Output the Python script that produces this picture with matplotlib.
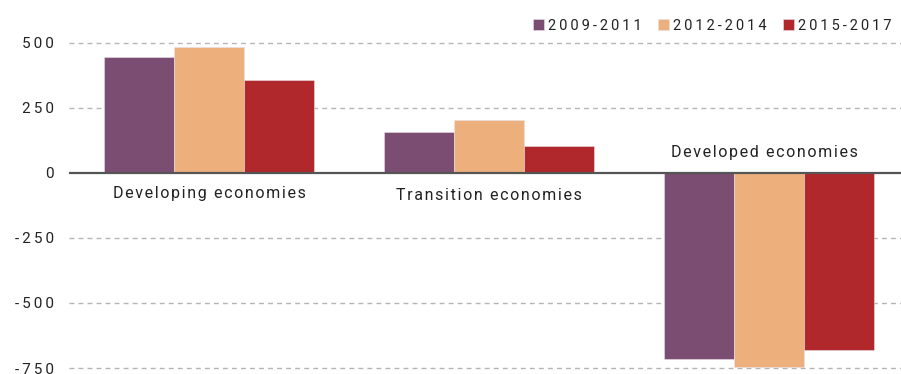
import matplotlib.pyplot as plt
import numpy as np

# data
groups = ["Developing economies", "Transition economies", "Developed economies"]
periods = ["2009-2011", "2012-2014", "2015-2017"]
v_2009_2011 = [444, 158, -715]
v_2012_2014 = [483, 204, -746]
v_2015_2017 = [356, 104, -681]
colors = ["#7B4D73", "#EDB07D", "#B0282C"]
yticks = [500, 250, 0, -250, -500, -750]

plt.rcParams['font.family'] = ['Roboto', 'DejaVu Sans']


def spaced(s, n=1):
    # fake letter tracking with hair spaces
    return ("\u200a" * n).join(s)


fig = plt.figure(figsize=(9.01, 3.74), dpi=100)
ax = fig.add_axes([69 / 901, 0, 1 - 69 / 901, 1])

x = np.arange(len(groups))
w = 0.25
series = [v_2009_2011, v_2012_2014, v_2015_2017]
for i, (vals, c, lab) in enumerate(zip(series, colors, periods)):
    ax.bar(x + (i - 1) * w, vals, w, color=c, label=spaced(lab, 2),
           edgecolor="#e8e0e6", linewidth=0.4, zorder=3)

ax.set_xlim(-0.5, 2.471)
ax.set_ylim(-773, 665)
ax.set_yticks(yticks)
ax.set_yticklabels([spaced(str(v), 2) for v in yticks])
ax.tick_params(axis="y", length=0, pad=11, labelsize=11, labelcolor="#222222")
ax.set_xticks([])
for s in ax.spines.values():
    s.set_visible(False)

for yv in yticks:
    if yv != 0:
        ax.axhline(yv, color="#b5b5b5", linestyle=(0, (3.5, 3)), linewidth=1, zorder=1)
ax.axhline(0, color="#555555", linewidth=1.6, zorder=4)

# category labels
label_dx = [0, 0, -0.018]
label_y = [-80, -88, 80]
for xi, dx, name, ly in zip(x, label_dx, groups, label_y):
    ax.text(xi + dx, ly, spaced(name), ha="center", va="center",
            fontsize=11.5, color="#222222", zorder=5)

leg = ax.legend(loc="upper right", bbox_to_anchor=(1.004, 0.985), ncol=3, frameon=False,
                handlelength=0.75, handleheight=0.75, handletextpad=0.25,
                columnspacing=1.15, fontsize=10.5)
for t in leg.get_texts():
    t.set_color("#222222")

fig.savefig("out.png", dpi=100)
